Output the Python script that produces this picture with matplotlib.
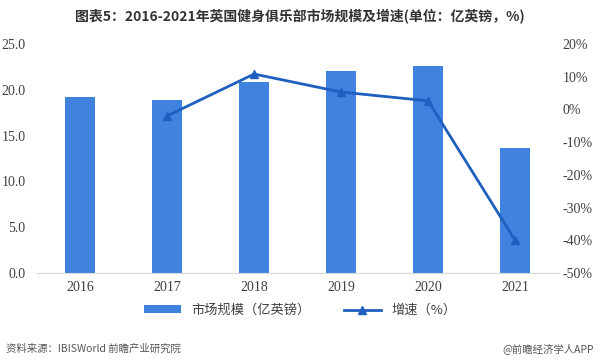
import matplotlib.pyplot as plt
import numpy as np

plt.rcParams['font.family'] = ['Noto Sans CJK SC', 'DejaVu Sans']

# 数据
years = ['2016', '2017', '2018', '2019', '2020', '2021']
market_size = [19.2, 18.9, 20.85, 22.05, 22.6, 13.65]   # 亿英镑
growth_years = ['2017', '2018', '2019', '2020', '2021']
growth = [-2.0, 10.8, 5.3, 2.6, -40.0]                   # %

bar_color = '#3f82e0'
line_color = '#1f5fbf'
tick_color = '#404040'

fig = plt.figure(figsize=(6, 3.63), dpi=100)
ax = fig.add_axes([0.061, 0.248, 0.870, 0.631])
ax2 = ax.twinx()

x = np.arange(len(years))
ax.bar(x, market_size, width=0.34, color=bar_color, label='市场规模（亿英镑）', zorder=2)

gx = [years.index(y) for y in growth_years]
ax2.plot(gx, growth, color=line_color, linewidth=2, marker='^', markersize=6,
         label='增速（%）', zorder=3)

ax.set_xlim(-0.5, len(years) - 0.5)
ax.set_ylim(0, 25)
ax.set_yticks(np.arange(0, 25.1, 5))
ax.set_yticklabels([f'{v:.1f}' for v in np.arange(0, 25.1, 5)])
ax2.set_ylim(-50, 20)
ax2.set_yticks(np.arange(-50, 21, 10))
ax2.set_yticklabels([f'{v}%' for v in range(-50, 21, 10)])

ax.set_xticks(x)
ax.set_xticklabels(years)

serif = 'Liberation Serif'
for lab in ax.get_xticklabels() + ax.get_yticklabels() + ax2.get_yticklabels():
    lab.set_fontfamily(serif)
    lab.set_fontsize(10)
    lab.set_color(tick_color)

for a in (ax, ax2):
    for s in a.spines.values():
        s.set_visible(False)
    a.tick_params(length=0)
ax.spines['bottom'].set_visible(True)
ax.spines['bottom'].set_color('#d9d9d9')
ax.tick_params(axis='y', pad=8)
ax2.tick_params(axis='y', pad=3)
ax.tick_params(axis='x', pad=6)

fig.text(0.5, 0.955, '图表5：2016-2021年英国健身俱乐部市场规模及增速(单位：亿英镑，%)',
         ha='center', va='center', fontsize=10, fontweight='bold', color='#333333')

h1, l1 = ax.get_legend_handles_labels()
h2, l2 = ax2.get_legend_handles_labels()
fig.legend(h1 + h2, l1 + l2, loc='center', bbox_to_anchor=(0.5, 0.145), ncol=2,
           frameon=False, fontsize=9.5, handlelength=2.8, handleheight=0.5,
           columnspacing=2.5, labelcolor='#404040')

fig.text(0.01, 0.04, '资料来源：IBISWorld 前瞻产业研究院', ha='left', va='center',
         fontsize=7.5, color='#555555')
fig.text(0.99, 0.04, '@前瞻经济学人APP', ha='right', va='center',
         fontsize=7.5, color='#555555')

plt.savefig('out.png', dpi=100)
